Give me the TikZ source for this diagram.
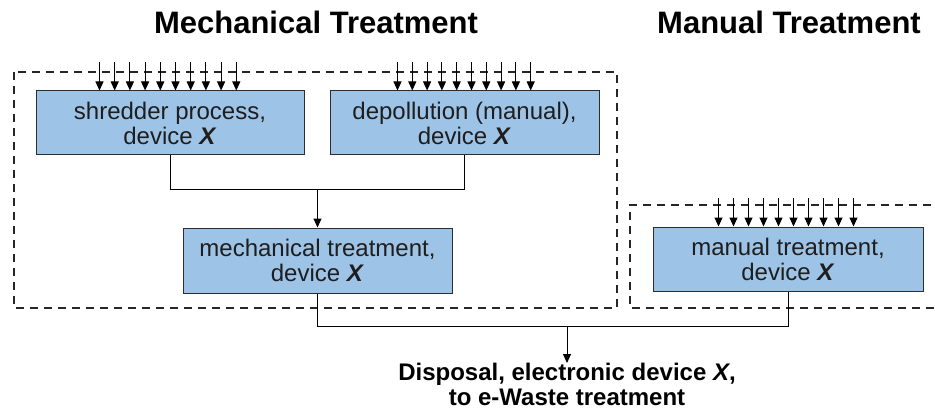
\documentclass[tikz,border=0pt]{standalone}
\usepackage{fontspec}
\setmainfont{Liberation Sans}
\usetikzlibrary{arrows.meta,calc}
\definecolor{boxblue}{RGB}{157,195,230}
\definecolor{boxedge}{RGB}{45,45,45}
\definecolor{boxtext}{RGB}{30,30,30}
\tikzset{
  procbox/.style={draw=boxedge, line width=1pt, fill=boxblue, align=center,
    minimum width=#1, minimum height=64pt, inner sep=0pt, text=boxtext,
    font=\fontsize{24}{25}\selectfont},
  procbox/.default=269pt,
  title/.style={font=\fontsize{31}{33}\selectfont\bfseries},
  region/.style={draw=black!85, line width=2pt, dash pattern=on 8pt off 6pt},
  flow/.style={draw=black, line width=1pt},
  inflow/.style={draw=black, line width=1pt, -{Triangle[width=8pt,length=9pt]}},
  outflow/.style={draw=black, line width=1pt, -{Triangle[width=8pt,length=9pt]}},
}
\newcommand{\devX}{device \textbf{\textit{X}}}
\begin{document}
\begin{tikzpicture}[x=1pt,y=-1pt]
  \useasboundingbox (0,0) rectangle (935,409);

  % group titles
  \node[title] (tmech) at (316,22) {Mechanical Treatment};
  \node[title] (tman) at (789,22) {Manual Treatment};

  % dashed system boundaries
  \draw[region] (14,72) rectangle (617,308);
  \draw[region] (945,205) -- (630,205) -- (630,308) -- (945,308);

  % process boxes
  \node[procbox=268pt] (shred) at (170,123) {shredder process,\\ \devX};
  \node[procbox] (depoll) at (464.5,123) {depollution (manual),\\ \devX};
  \node[procbox, minimum height=65pt] (mech) at (317.5,260.5) {mechanical treatment,\\ \devX};
  \node[procbox=270pt] (manual) at (788,259) {manual treatment,\\ \devX};

  % final output
  \node[font=\fontsize{24}{25}\selectfont\bfseries, align=center, anchor=north, inner sep=0pt]
    (disp) at (567,363) {Disposal, electronic device \textit{X},\\ to e-Waste treatment};

  % input flows into each box
  \foreach \i in {0,...,9} {
    \draw[inflow] ($(shred.north west)+(64+15.2*\i,-28)$) -- ($(shred.north west)+(64+15.2*\i,0)$);
    \draw[inflow] ($(depoll.north west)+(68+14.8*\i,-28)$) -- ($(depoll.north west)+(68+14.8*\i,0)$);
    \draw[inflow] ($(manual.north west)+(66+15*\i,-28)$) -- ($(manual.north west)+(66+15*\i,0)$);
  }

  % joins between boxes
  \coordinate (j1) at (317.5,190);
  \coordinate (j2) at (567,326);
  \draw[flow] (shred.south) |- (j1);
  \draw[flow] (depoll.south) |- (j1);
  \draw[outflow] (j1) -- (mech.north);
  \draw[flow] (mech.south) |- (j2);
  \draw[flow] (manual.south) |- (j2);
  \draw[outflow] (j2) -- (disp.north);
\end{tikzpicture}
\end{document}
